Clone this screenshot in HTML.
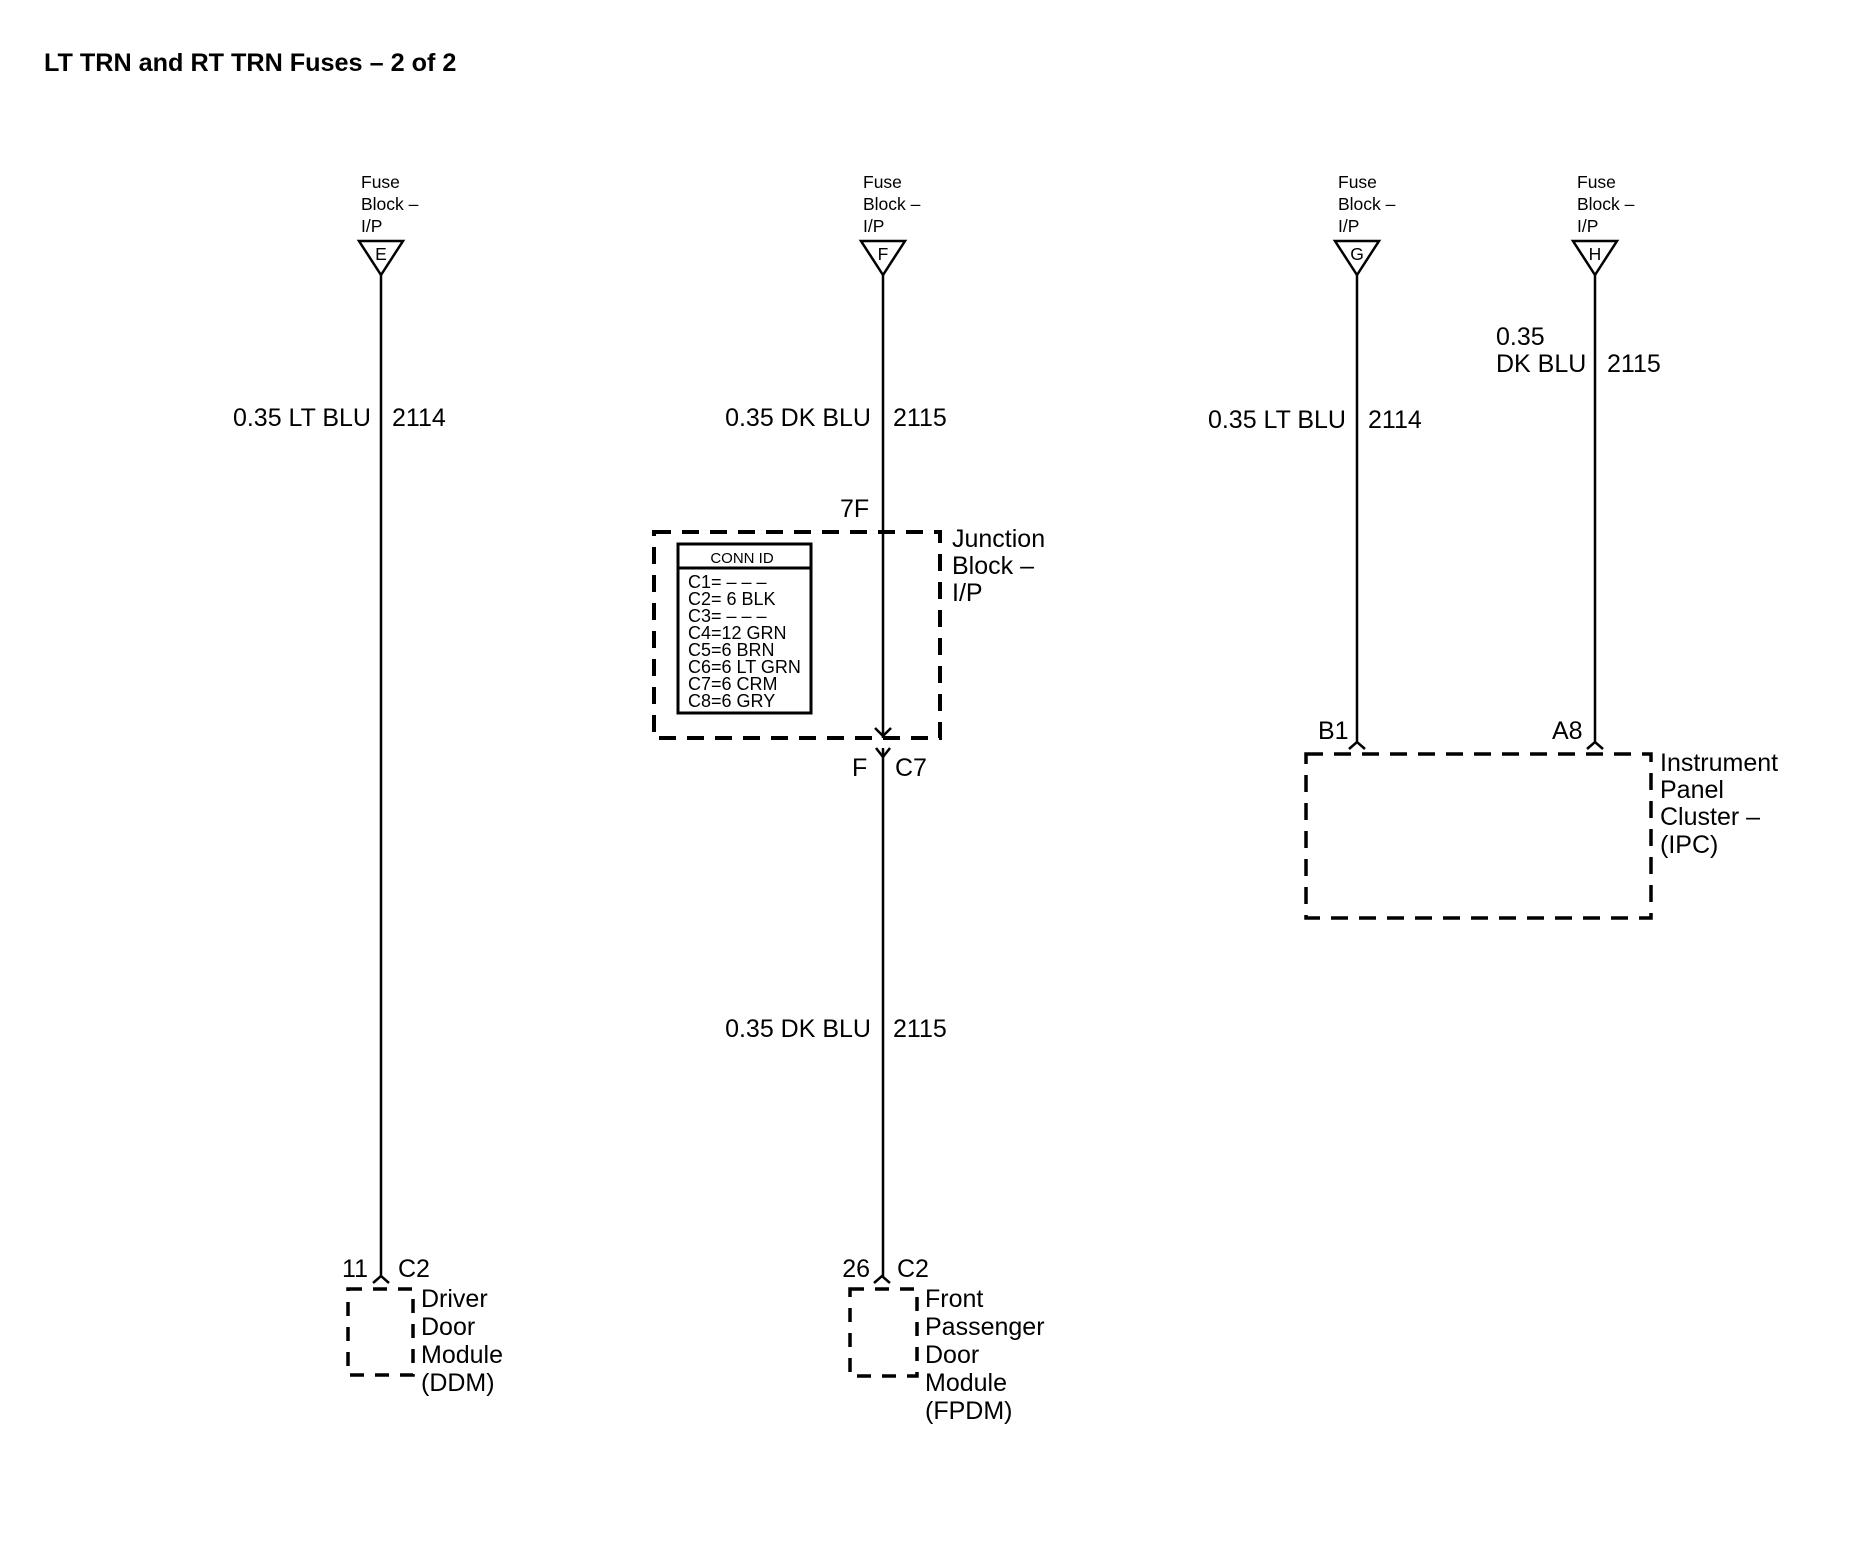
<!DOCTYPE html>
<html><head><meta charset="utf-8"><style>
html,body{margin:0;padding:0;background:#fff}
svg{display:block}
text{font-family:"Liberation Sans",Arial,sans-serif;fill:#000}
.s{font-size:17.5px}
.m{font-size:25px}
.c{font-size:18px}
</style></head><body>
<svg width="1852" height="1568" viewBox="0 0 1852 1568" xmlns="http://www.w3.org/2000/svg">
<rect width="1852" height="1568" fill="#fff"/>
<text x="44" y="71" style="font-size:25.2px;font-weight:bold">LT TRN and RT TRN Fuses – 2 of 2</text>

<text x="361" y="188" class="s">Fuse</text><text x="361" y="210" class="s">Block –</text><text x="361" y="232" class="s">I/P</text>
<text x="863" y="188" class="s">Fuse</text><text x="863" y="210" class="s">Block –</text><text x="863" y="232" class="s">I/P</text>
<text x="1338" y="188" class="s">Fuse</text><text x="1338" y="210" class="s">Block –</text><text x="1338" y="232" class="s">I/P</text>
<text x="1577" y="188" class="s">Fuse</text><text x="1577" y="210" class="s">Block –</text><text x="1577" y="232" class="s">I/P</text>
<g fill="none" stroke="#000" stroke-width="2.5">
<polygon points="359,241 403,241 381,275"/>
<polygon points="861,241 905,241 883,275"/>
<polygon points="1335,241 1379,241 1357,275"/>
<polygon points="1573,241 1617,241 1595,275"/>
</g>
<g text-anchor="middle">
<text x="381" y="260" class="s">E</text>
<text x="883" y="260" class="s">F</text>
<text x="1357" y="260" class="s">G</text>
<text x="1595" y="260" class="s">H</text>
</g>

<g stroke="#000" stroke-width="2.5" fill="none">
<line x1="381" y1="275" x2="381" y2="1276"/>
<line x1="883" y1="275" x2="883" y2="738"/>
<line x1="883" y1="748" x2="883" y2="1276"/>
<line x1="1357" y1="275" x2="1357" y2="742"/>
<line x1="1595" y1="275" x2="1595" y2="742"/>
<polyline points="875,728 883,736 891,728"/>
<polyline points="876,748 883,757 890,748"/>
<polyline points="373,1283 381,1276 389,1283"/>
<polyline points="874,1283 882,1276 890,1283"/>
<polyline points="1349,749 1357,742 1365,749"/>
<polyline points="1587,749 1595,742 1603,749"/>
</g>

<text x="371" y="426" text-anchor="end" class="m">0.35 LT BLU</text><text x="392" y="426" class="m">2114</text>
<text x="871" y="426" text-anchor="end" class="m">0.35 DK BLU</text><text x="893" y="426" class="m">2115</text>
<text x="1346" y="428" text-anchor="end" class="m">0.35 LT BLU</text><text x="1368" y="428" class="m">2114</text>
<text x="1496" y="345" class="m">0.35</text>
<text x="1496" y="372" class="m">DK BLU</text><text x="1607" y="372" class="m">2115</text>
<text x="871" y="1037" text-anchor="end" class="m">0.35 DK BLU</text><text x="893" y="1037" class="m">2115</text>
<text x="840" y="517" class="m">7F</text>
<text x="852" y="776" class="m">F</text><text x="895" y="776" class="m">C7</text>
<text x="1318" y="739" class="m">B1</text>
<text x="1552" y="739" class="m">A8</text>
<text x="368" y="1277" text-anchor="end" class="m">11</text><text x="398" y="1277" class="m">C2</text>
<text x="870" y="1277" text-anchor="end" class="m">26</text><text x="897" y="1277" class="m">C2</text>

<rect x="654" y="532" width="286" height="206" fill="none" stroke="#000" stroke-width="4" stroke-dasharray="17 11"/>
<rect x="678" y="544" width="133" height="169" fill="none" stroke="#000" stroke-width="3"/>
<line x1="678" y1="568" x2="811" y2="568" stroke="#000" stroke-width="3"/>
<text x="742" y="563" text-anchor="middle" style="font-size:15px">CONN ID</text>
<text x="688" y="588" class="c">C1= – – –</text>
<text x="688" y="605" class="c">C2= 6 BLK</text>
<text x="688" y="622" class="c">C3= – – –</text>
<text x="688" y="639" class="c">C4=12 GRN</text>
<text x="688" y="656" class="c">C5=6 BRN</text>
<text x="688" y="673" class="c">C6=6 LT GRN</text>
<text x="688" y="690" class="c">C7=6 CRM</text>
<text x="688" y="707" class="c">C8=6 GRY</text>
<text x="952" y="547" class="m">Junction</text>
<text x="952" y="574" class="m">Block –</text>
<text x="952" y="601" class="m">I/P</text>

<rect x="1306" y="754" width="345" height="164" fill="none" stroke="#000" stroke-width="3.5" stroke-dasharray="17 11"/>
<text x="1660" y="771" class="m">Instrument</text>
<text x="1660" y="798" class="m">Panel</text>
<text x="1660" y="825" class="m">Cluster –</text>
<text x="1660" y="853" class="m">(IPC)</text>

<rect x="348" y="1289" width="65" height="86" fill="none" stroke="#000" stroke-width="3.5" stroke-dasharray="14 11"/>
<text x="421" y="1307" class="m">Driver</text>
<text x="421" y="1335" class="m">Door</text>
<text x="421" y="1363" class="m">Module</text>
<text x="421" y="1391" class="m">(DDM)</text>

<rect x="850" y="1289" width="67" height="87" fill="none" stroke="#000" stroke-width="3.5" stroke-dasharray="14 11"/>
<text x="925" y="1307" class="m">Front</text>
<text x="925" y="1335" class="m">Passenger</text>
<text x="925" y="1363" class="m">Door</text>
<text x="925" y="1391" class="m">Module</text>
<text x="925" y="1419" class="m">(FPDM)</text>
</svg>
</body></html>
